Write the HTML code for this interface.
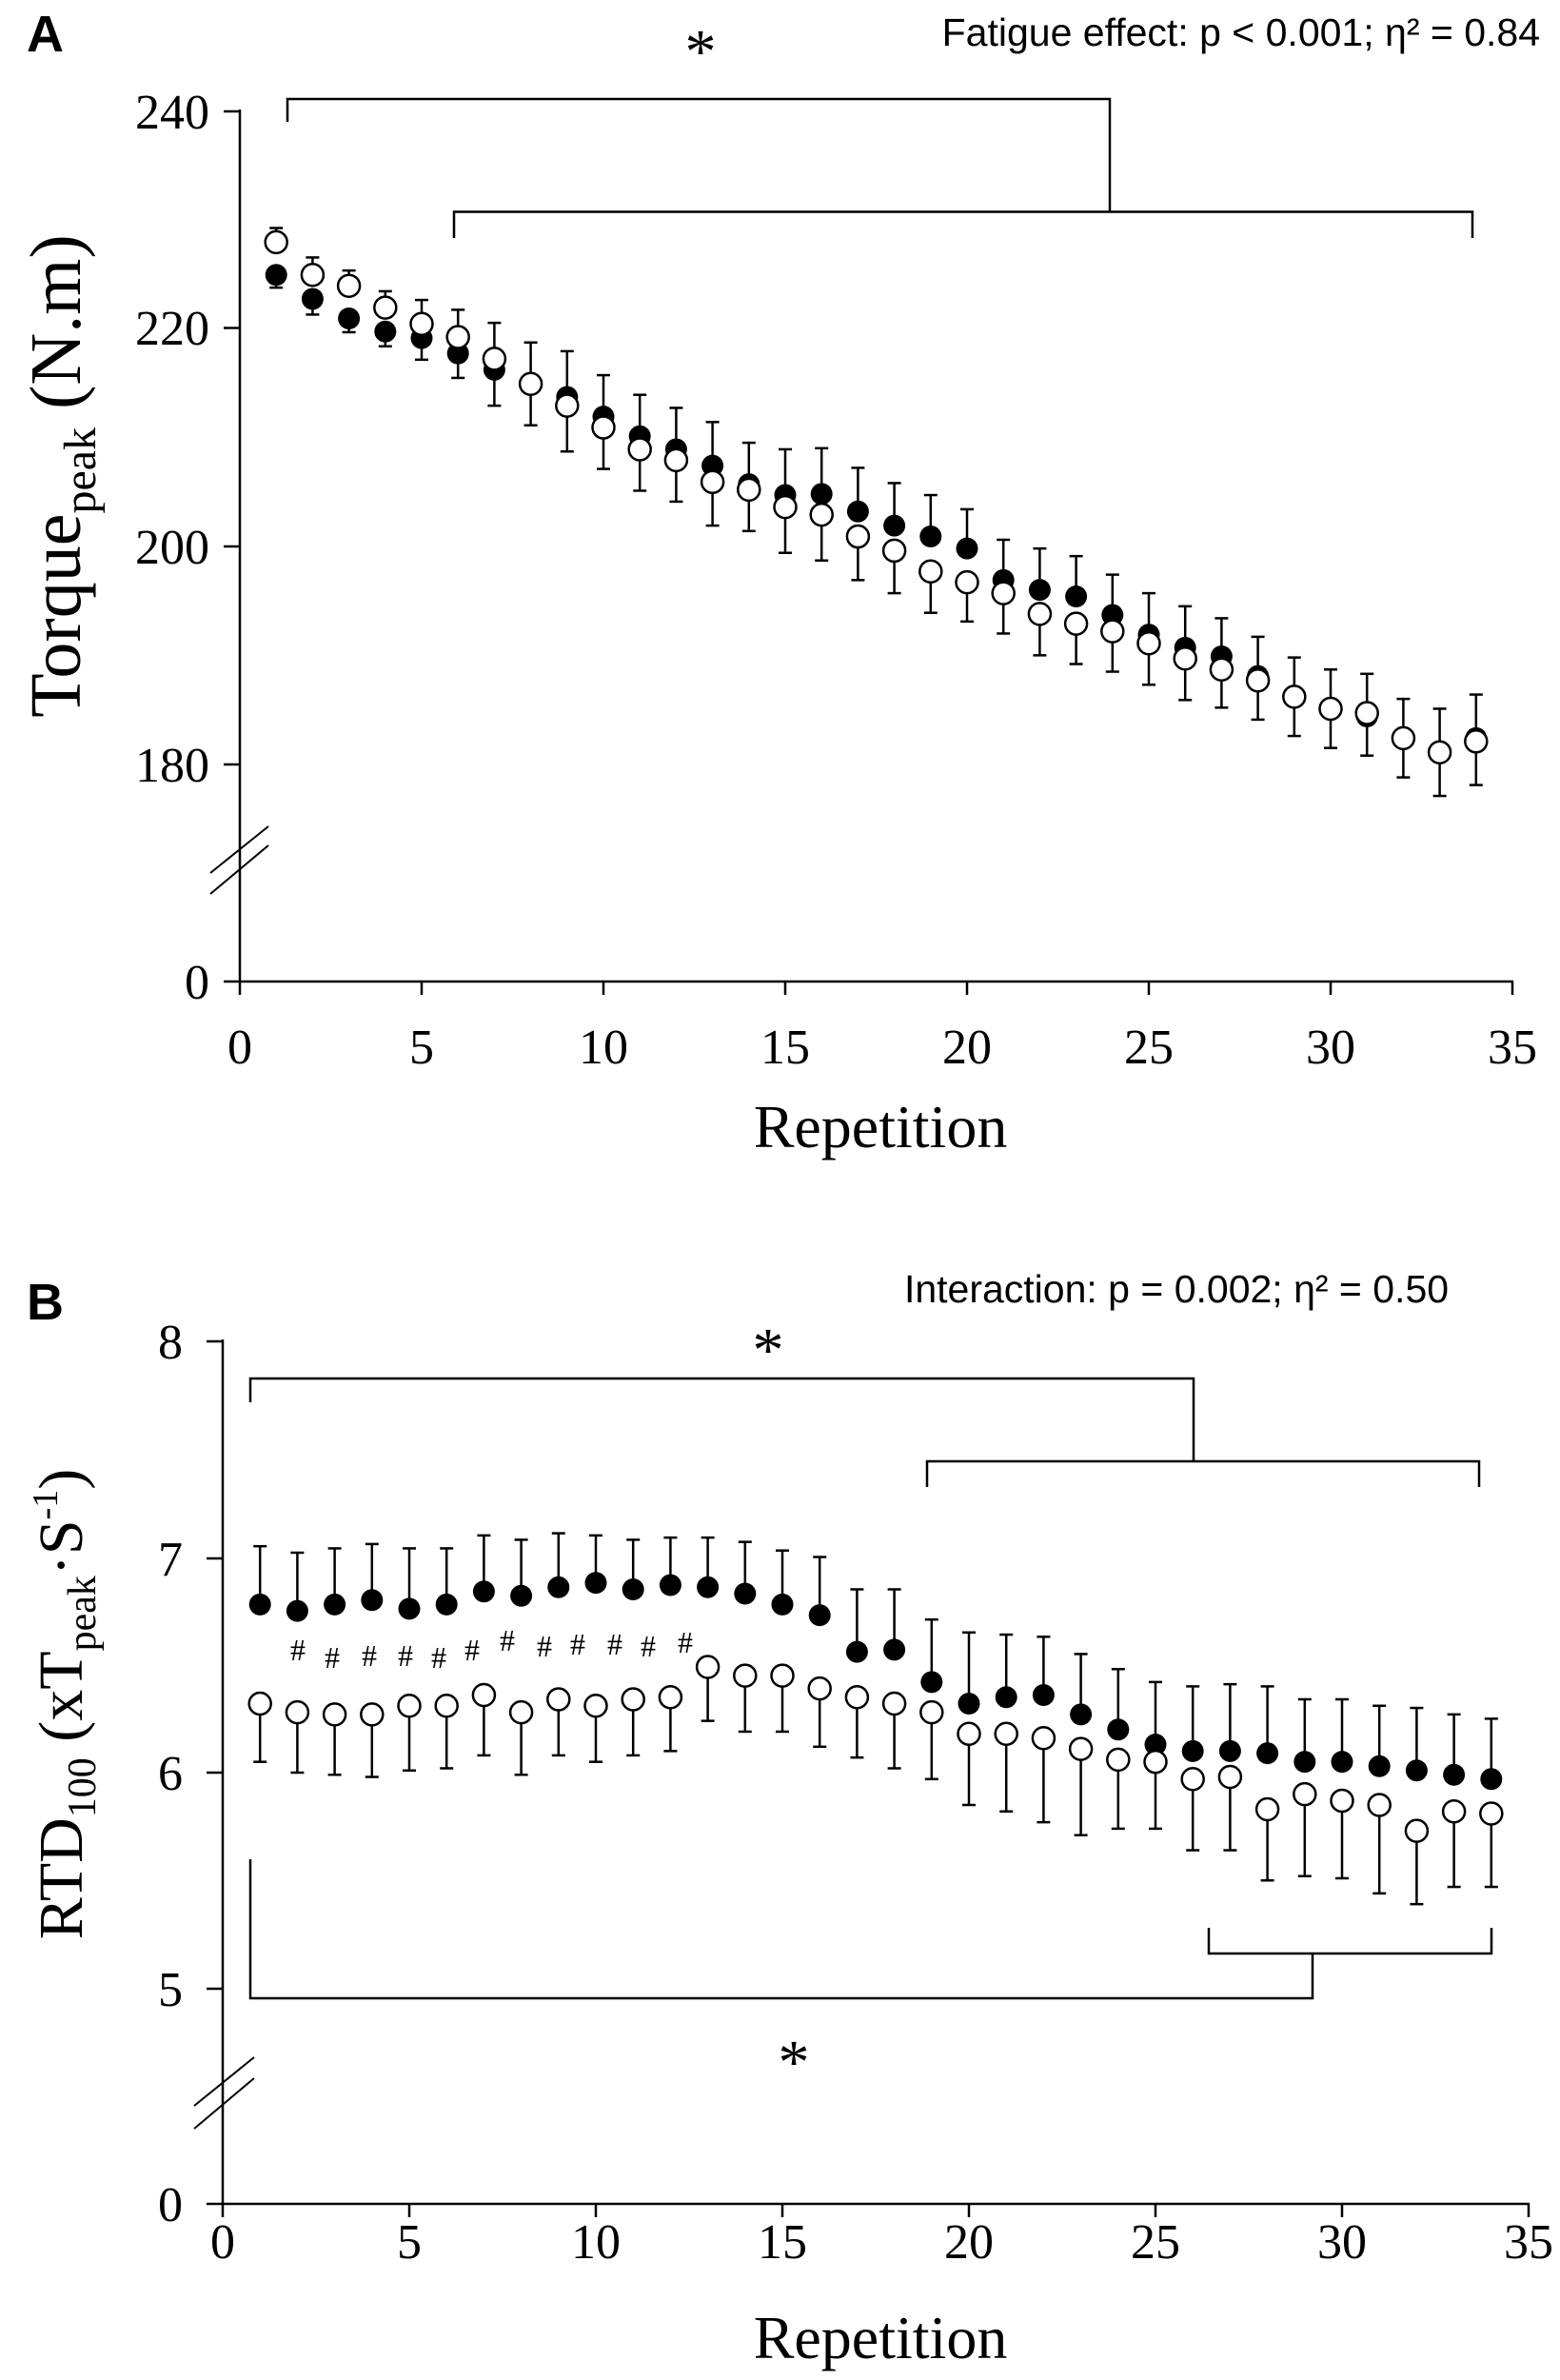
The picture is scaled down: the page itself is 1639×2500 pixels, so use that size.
<!DOCTYPE html>
<html><head><meta charset="utf-8"><style>
html,body{margin:0;padding:0;background:#fff}
svg{display:block}
.t{font-family:"Liberation Serif",serif;fill:#000}
.s{font-family:"Liberation Sans",sans-serif;fill:#000}
</style></head><body>
<svg id="g" width="1639" height="2500" viewBox="0 0 1639 2500" xmlns="http://www.w3.org/2000/svg">
<rect width="1639" height="2500" fill="#fff"/>
<g stroke="#000" stroke-width="2.5" fill="none">
<line x1="252" y1="115" x2="252" y2="1032"/>
<line x1="235" y1="1031" x2="1590" y2="1031"/>
<line x1="235" y1="117" x2="252" y2="117"/>
<line x1="235" y1="344.5" x2="252" y2="344.5"/>
<line x1="235" y1="574" x2="252" y2="574"/>
<line x1="235" y1="803" x2="252" y2="803"/>
<line x1="252" y1="1031" x2="252" y2="1045"/>
<line x1="443" y1="1031" x2="443" y2="1045"/>
<line x1="634" y1="1031" x2="634" y2="1045"/>
<line x1="825" y1="1031" x2="825" y2="1045"/>
<line x1="1016" y1="1031" x2="1016" y2="1045"/>
<line x1="1207" y1="1031" x2="1207" y2="1045"/>
<line x1="1398" y1="1031" x2="1398" y2="1045"/>
<line x1="1589" y1="1031" x2="1589" y2="1045"/>
<line x1="221" y1="917" x2="282" y2="868" stroke-width="2"/>
<line x1="221" y1="939" x2="282" y2="888" stroke-width="2"/>
<polyline points="302,128 302,104 1166,104 1166,222.5"/>
<polyline points="477,250 477,222.5 1547,222.5 1547,250"/>
<line x1="234" y1="1407" x2="234" y2="2316"/>
<line x1="217" y1="2315" x2="1607" y2="2315"/>
<line x1="217" y1="1409" x2="234" y2="1409"/>
<line x1="217" y1="1637" x2="234" y2="1637"/>
<line x1="217" y1="1862" x2="234" y2="1862"/>
<line x1="217" y1="2089" x2="234" y2="2089"/>
<line x1="234" y1="2315" x2="234" y2="2329"/>
<line x1="430" y1="2315" x2="430" y2="2329"/>
<line x1="626" y1="2315" x2="626" y2="2329"/>
<line x1="822" y1="2315" x2="822" y2="2329"/>
<line x1="1018" y1="2315" x2="1018" y2="2329"/>
<line x1="1214" y1="2315" x2="1214" y2="2329"/>
<line x1="1410" y1="2315" x2="1410" y2="2329"/>
<line x1="1606" y1="2315" x2="1606" y2="2329"/>
<line x1="204" y1="2212" x2="267" y2="2161" stroke-width="2"/>
<line x1="204" y1="2236" x2="267" y2="2183" stroke-width="2"/>
<polyline points="263,1473 263,1448 1254,1448 1254,1535"/>
<polyline points="974,1562 974,1535 1554,1535 1554,1562"/>
<polyline points="263,1953 263,2099 1379,2099 1379,2052"/>
<polyline points="1270,2025 1270,2052 1567,2052 1567,2025"/>
</g>
<g id="data"></g>
<text class="s" x="28" y="54" font-size="54" font-weight="bold">A</text>
<text class="s" x="1618" y="48" font-size="41" text-anchor="end">Fatigue effect: p &lt; 0.001; η² = 0.84</text>
<text class="t" x="736" y="76" font-size="66" text-anchor="middle">*</text>
<g class="t" font-size="52" text-anchor="end">
<text x="220" y="135">240</text><text x="220" y="362">220</text><text x="220" y="592">200</text><text x="220" y="821">180</text><text x="220" y="1049">0</text>
</g>
<g class="t" font-size="52" text-anchor="middle">
<text x="252" y="1117">0</text><text x="443" y="1117">5</text><text x="634" y="1117">10</text><text x="825" y="1117">15</text><text x="1016" y="1117">20</text><text x="1207" y="1117">25</text><text x="1398" y="1117">30</text><text x="1589" y="1117">35</text>
</g>
<text class="t" x="925" y="1205" font-size="64" text-anchor="middle">Repetition</text>
<text class="t" transform="translate(84,500) rotate(-90)" font-size="76" text-anchor="middle">Torque<tspan font-size="48" dy="16">peak</tspan><tspan dy="-16"> (N.m)</tspan></text>
<text class="s" x="28" y="1386" font-size="54" font-weight="bold">B</text>
<text class="s" x="1236" y="1368" font-size="41" text-anchor="middle">Interaction: p = 0.002; η² = 0.50</text>
<text class="t" x="807" y="1440" font-size="66" text-anchor="middle">*</text>
<text class="t" x="834" y="2188" font-size="66" text-anchor="middle">*</text>
<g class="t" font-size="52" text-anchor="end">
<text x="192" y="1427">8</text><text x="192" y="1655">7</text><text x="192" y="1880">6</text><text x="192" y="2107">5</text><text x="192" y="2333">0</text>
</g>
<g class="t" font-size="52" text-anchor="middle">
<text x="234" y="2372">0</text><text x="430" y="2372">5</text><text x="626" y="2372">10</text><text x="822" y="2372">15</text><text x="1018" y="2372">20</text><text x="1214" y="2372">25</text><text x="1410" y="2372">30</text><text x="1606" y="2372">35</text>
</g>
<text class="t" x="925" y="2477" font-size="64" text-anchor="middle">Repetition</text>
<text class="t" transform="translate(86,1790) rotate(-90)" font-size="66" text-anchor="middle">RTD<tspan font-size="42" dy="14">100</tspan><tspan dy="-14"> (xT</tspan><tspan font-size="42" dy="14">peak</tspan><tspan dy="-14">·S</tspan><tspan font-size="38" dy="-26">-1</tspan><tspan dy="26">)</tspan></text>
<g class="t" font-size="32" text-anchor="middle" fill="#333">
<text x="313" y="1744">#</text><text x="349" y="1752">#</text><text x="388" y="1750">#</text><text x="426" y="1750">#</text><text x="461" y="1752">#</text><text x="496" y="1744">#</text><text x="533" y="1734">#</text><text x="572" y="1740">#</text><text x="607" y="1738">#</text><text x="646" y="1738">#</text><text x="681" y="1740">#</text><text x="720" y="1736">#</text>
</g>
</svg>
<script>
(function(){
var NS="http://www.w3.org/2000/svg",g=document.getElementById("data");
function el(n,a){var e=document.createElementNS(NS,n);for(var k in a)e.setAttribute(k,a[k]);g.appendChild(e);return e;}
function bar(x,y1,y2){el("line",{x1:x,y1:y1,x2:x,y2:y2,stroke:"#000","stroke-width":2.5});el("line",{x1:x-7,y1:y2,x2:x+7,y2:y2,stroke:"#000","stroke-width":2.5});}
var R=11.5;
var fA=[225,222.8,221,219.8,219.2,217.8,216.3,215,213.8,212,210.2,209,207.5,205.8,204.8,204.9,203.3,202,201,199.9,197,196.1,195.5,193.8,192,190.8,190,188.2,186.3,185.2,184.5,182.5,181.2,182.5];
var oA=[228,225,224,222,220.5,219.3,217.3,215,213,211,209,208,206,205.3,203.7,203,201,199.7,197.8,196.8,195.8,193.9,193,192.3,191.2,189.8,188.8,187.8,186.3,185.2,184.8,182.5,181.2,182.2];
var sdA=[1.3,1.6,1.4,1.5,2.2,2.5,3.3,3.8,4.2,3.8,3.8,3.8,4,3.8,4.2,4.2,4,3.9,3.8,3.6,3.7,3.8,3.7,3.7,3.8,3.8,3.5,3.6,3.6,3.6,3.6,3.6,4,4];
function xA(r){return 252+38.2*r;}function yA(v){return 117+(240-v)*11.45;}
for(var i=0;i<34;i++){var x=xA(i+1),sd=sdA[i];
 var hi=Math.max(fA[i],oA[i]),lo=Math.min(fA[i],oA[i]);
 bar(x,yA(hi),yA(hi+sd));bar(x,yA(lo),yA(lo-sd*(i<6?0.9:1)));}
for(var i=0;i<34;i++){var x=xA(i+1);
 el("ellipse",{cx:x,cy:yA(fA[i]),rx:R,ry:R,fill:"#000"});
 el("ellipse",{cx:x,cy:yA(oA[i]),rx:R,ry:R,fill:"#fff",stroke:"#000","stroke-width":2.5});}
var fB=[6.78,6.75,6.78,6.80,6.76,6.78,6.84,6.82,6.86,6.88,6.85,6.87,6.86,6.83,6.78,6.73,6.56,6.57,6.42,6.32,6.35,6.36,6.27,6.20,6.13,6.10,6.10,6.09,6.05,6.05,6.03,6.01,5.99,5.97];
var fT=[7.05,7.02,7.04,7.06,7.04,7.04,7.10,7.08,7.11,7.10,7.08,7.09,7.09,7.07,7.03,7.00,6.85,6.85,6.71,6.65,6.64,6.63,6.55,6.48,6.42,6.40,6.41,6.40,6.34,6.34,6.31,6.30,6.27,6.25];
var oB=[6.32,6.28,6.27,6.27,6.31,6.31,6.36,6.28,6.34,6.31,6.34,6.35,6.49,6.45,6.45,6.39,6.35,6.32,6.28,6.18,6.18,6.16,6.11,6.06,6.05,5.97,5.98,5.83,5.90,5.87,5.85,5.73,5.82,5.81];
var oL=[6.05,6.00,5.99,5.98,6.01,6.02,6.08,5.99,6.08,6.05,6.08,6.10,6.24,6.19,6.19,6.12,6.07,6.02,5.97,5.85,5.82,5.77,5.71,5.74,5.74,5.64,5.64,5.50,5.52,5.51,5.44,5.39,5.47,5.47];
function xB(r){return 234+39.2*r;}function yB(v){return 1409+(8-v)*226.5;}
for(var i=0;i<34;i++){var x=xB(i+1);bar(x,yB(fB[i]),yB(fT[i]));bar(x,yB(oB[i]),yB(oL[i]));}
for(var i=0;i<34;i++){var x=xB(i+1);
 el("ellipse",{cx:x,cy:yB(fB[i]),rx:R,ry:R,fill:"#000"});
 el("ellipse",{cx:x,cy:yB(oB[i]),rx:R,ry:R,fill:"#fff",stroke:"#000","stroke-width":2.5});}
})();
</script>
</body></html>
